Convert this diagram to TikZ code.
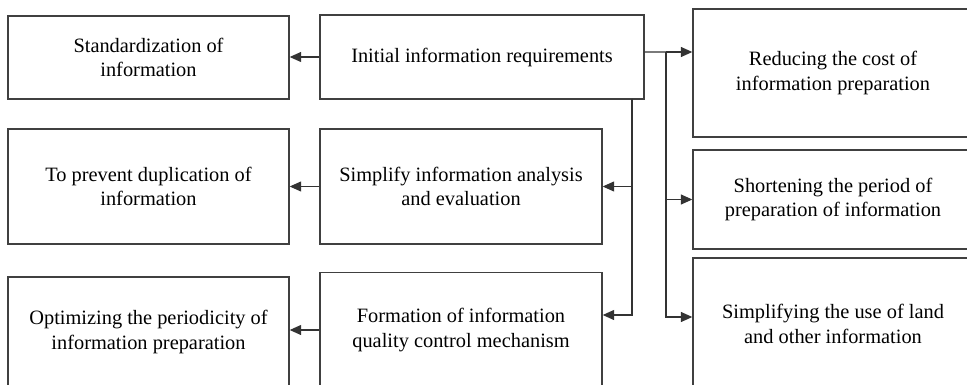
\documentclass[tikz,border=0pt]{standalone}
\usepackage{fontspec}
\setmainfont{Liberation Serif}
\usetikzlibrary{arrows.meta}

\begin{document}
\begin{tikzpicture}[x=0.02cm, y=-0.02cm,
    box/.style={draw=black!75, line width=0.8pt, align=center, inner sep=0pt,
        font=\fontsize{11.6}{13.9}\selectfont},
    arr/.style={draw=black!80, line width=0.7pt, -{Triangle[length=2.3mm, width=2mm]}},
    link/.style={draw=black!80, line width=0.7pt}]
    \useasboundingbox (0,0) rectangle (967,385);

    % left column
    \node[box, minimum width=5.62cm, minimum height=1.66cm] (std) at (148.5,57.5) {Standardization of\\information};
    \node[box, minimum width=5.62cm, minimum height=2.3cm] (prev) at (148.5,186.5) {To prevent duplication of\\information};
    \node[box, minimum width=5.62cm, minimum height=2.2cm] (opt) at (148.5,332) {Optimizing the periodicity of\\information preparation};

    % middle column
    \node[box, minimum width=6.48cm, minimum height=1.68cm] (init) at (482,57) {Initial information requirements};
    \node[box, minimum width=5.64cm, minimum height=2.3cm] (simp) at (461,186.5) {Simplify information analysis\\and evaluation};
    \node[box, minimum width=5.64cm, minimum height=2.3cm] (form) at (461,330) {Formation of information\\quality control mechanism};

    % right column
    \node[box, minimum width=5.6cm, minimum height=2.56cm] (cost) at (833,73) {Reducing the cost of\\information preparation};
    \node[box, minimum width=5.6cm, minimum height=1.98cm] (period) at (833,199.5) {Shortening the period of\\preparation of information};
    \node[box, minimum width=5.6cm, minimum height=2.64cm] (land) at (833,324) {Simplifying the use of land\\and other information};

    % arrows to the left
    \draw[arr] (init.west) -- (std.east |- init.west);
    \draw[arr] (simp.west) -- (prev.east |- simp.west);
    \draw[arr] (form.west) -- (opt.east |- form.west);

    % branches out of the first box
    \coordinate (lb) at (632,99);
    \coordinate (rb) at (666,52);
    \draw[link] ([yshift=0.1cm]init.east) -- (rb);
    \draw[arr] (rb) -- (rb -| cost.west);
    \draw[arr] (rb) |- (period.west);
    \draw[arr] (rb) |- ([yshift=0.14cm]land.west);
    \draw[arr] (lb) |- (simp.east);
    \draw[arr] (lb) |- ([yshift=0.3cm]form.east);
\end{tikzpicture}
\end{document}
